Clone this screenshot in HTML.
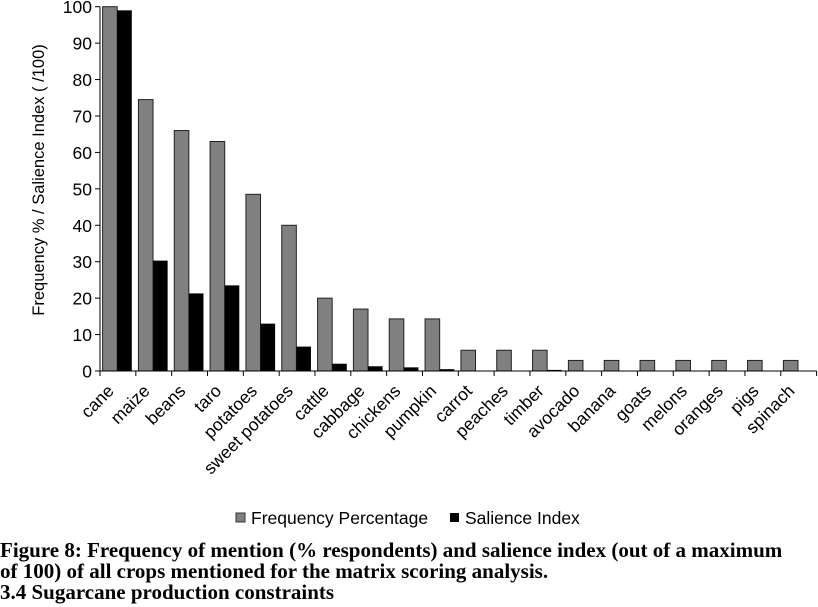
<!DOCTYPE html>
<html><head><meta charset="utf-8"><style>
body{margin:0;background:#fff;width:818px;height:607px;overflow:hidden}
svg{display:block}
.t{font-family:"Liberation Sans",Arial,sans-serif;font-size:17.5px;fill:#000}
.yt{font-family:"Liberation Sans",Arial,sans-serif;font-size:16.5px;fill:#000}
.cap{font-family:"Liberation Serif","Times New Roman",serif;font-weight:bold;font-size:21px;fill:#000}
</style></head><body>
<svg id="chart" width="818" height="607">
<g id="bars"></g>
<g id="axes"></g>
<text class="yt" transform="translate(44,180) rotate(-90)" text-anchor="middle">Frequency % / Salience Index ( /100)</text>
<g>
<rect x="236" y="513" width="9" height="9" fill="#808080" stroke="#333"/>
<text class="t" x="251" y="524">Frequency Percentage</text>
<rect x="450" y="513" width="9" height="9" fill="#000"/>
<text class="t" x="465" y="524">Salience Index</text>
</g>
<text class="cap" x="0" y="557">Figure 8: Frequency of mention (% respondents) and salience index (out of a maximum</text>
<text class="cap" x="0" y="578">of 100) of all crops mentioned for the matrix scoring analysis.</text>
<text class="cap" x="0" y="599">3.4 Sugarcane production constraints</text>
</svg>
<script>
const categories=["cane","maize","beans","taro","potatoes","sweet potatoes","cattle","cabbage","chickens","pumpkin","carrot","peaches","timber","avocado","banana","goats","melons","oranges","pigs","spinach"];
const frequency=[100,74.5,66,63,48.5,40,20,17,14.3,14.3,5.7,5.7,5.7,2.9,2.9,2.9,2.9,2.9,2.9,2.9];
const salience=[99,30.3,21.3,23.5,13,6.7,2,1.3,1,0.5,0,0,0.3,0,0,0,0,0,0,0];
const yTicks=[0,10,20,30,40,50,60,70,80,90,100];
const NS="http://www.w3.org/2000/svg";
const x0=100,slots=20,slotW=35.83,yBase=371,yTop=6.7;
function y(v){return yBase-(v/100)*(yBase-yTop);}
function xs(i){return x0+i*slotW;}
function mk(tag,attrs,parent){const e=document.createElementNS(NS,tag);for(const k in attrs)e.setAttribute(k,attrs[k]);parent.appendChild(e);return e;}
const bars=document.getElementById('bars'),axes=document.getElementById('axes');
categories.forEach((c,i)=>{
  const fx=xs(i)+2.6, bw=14.6;
  const f=mk('rect',{x:fx,y:y(frequency[i]),width:bw,height:yBase-y(frequency[i]),fill:'#808080',stroke:'#222','stroke-width':1},bars);
  
  
  const s=mk('rect',{x:fx+bw,y:y(salience[i]),width:bw,height:yBase-y(salience[i]),fill:'#000'},bars);
  
  
  const cx=xs(i)+slotW/2;
  const t=mk('text',{class:'t','text-anchor':'end',transform:`translate(${cx-3},${392}) rotate(-45)`},axes);
  t.textContent=c;
  
  
});
mk('line',{x1:x0,y1:yTop,x2:x0,y2:yBase,stroke:'#000','stroke-width':1},axes);
mk('line',{x1:x0,y1:yBase,x2:x0+slots*slotW,y2:yBase,stroke:'#000','stroke-width':1},axes);
for(let i=0;i<=slots;i++){mk('line',{x1:xs(i),y1:yBase,x2:xs(i),y2:yBase+5,stroke:'#000'},axes);}
yTicks.forEach(v=>{
  mk('line',{x1:x0-5,y1:y(v),x2:x0,y2:y(v),stroke:'#000'},axes);
  const t=mk('text',{class:'t',x:x0-8,y:y(v)+6.5,'text-anchor':'end'},axes);
  t.textContent=v;
  
  
});
</script>
</body></html>
